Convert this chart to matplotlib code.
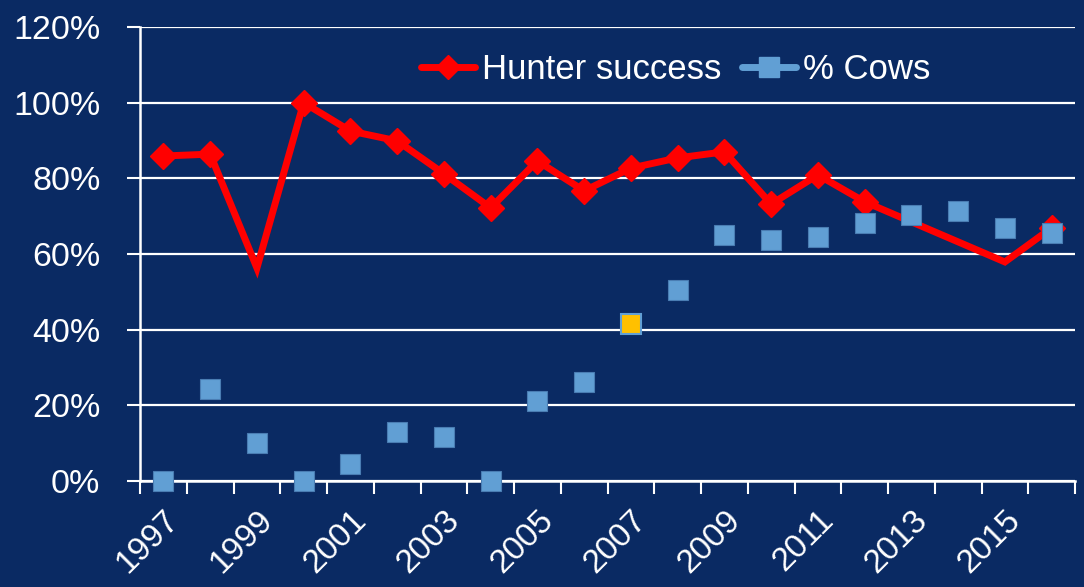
import matplotlib
matplotlib.use("Agg")
import matplotlib.pyplot as plt
import numpy as np

years = list(range(1997, 2017))
hunter_years = [1997, 1998, 1999, 2000, 2001, 2002, 2003, 2004, 2005, 2006,
                2007, 2008, 2009, 2010, 2011, 2012, 2015, 2016]
hunter_success = [85.9, 86.4, 56.3, 100.0, 92.5, 89.9, 81.2, 72.2, 84.6, 76.7,
                  82.7, 85.4, 87.0, 73.2, 80.9, 73.8, 57.9, 66.9]
hunter_has_marker = [True, True, False, True, True, True, True, True, True, True,
                     True, True, True, True, True, True, False, True]
pct_cows = [0.0, 24.3, 10.0, 0.0, 4.5, 13.0, 11.6, 0.0, 21.1, 26.2,
            41.5, 50.5, 65.0, 63.7, 64.5, 68.2, 70.3, 71.4, 66.9, 65.6]
highlight_year = 2007
x_labels = [str(y) for y in years[::2]]

BG = "#0A2A63"
RED = "#FF0000"
BLUE = "#619FD4"
BLUE_EDGE = "#4A7DB3"
YELLOW = "#FFC000"

plt.rcParams['font.family'] = ['Liberation Sans', 'DejaVu Sans']

fig = plt.figure(figsize=(10.84, 5.87), dpi=100, facecolor=BG)
ax = fig.add_axes([0.1292, 0.1806, 0.9917 - 0.1292, 0.7734], facecolor=BG)

xi = {y: i for i, y in enumerate(years)}
hx = [xi[y] for y in hunter_years]
cx = [xi[y] for y in years]

ax.set_ylim(0, 120)
ax.set_yticks(np.arange(0, 121, 20))
ax.set_yticklabels([f"{v}%" for v in range(0, 121, 20)])
ax.grid(axis='y', color='white', linewidth=1.6, zorder=0)
ax.set_axisbelow(True)

ax.plot(hx, hunter_success, color=RED, linewidth=5, solid_joinstyle='miter',
        zorder=3)
mx = [x for x, m in zip(hx, hunter_has_marker) if m]
my = [v for v, m in zip(hunter_success, hunter_has_marker) if m]
ax.plot(mx, my, linestyle='none', marker='D', markersize=13, color=RED,
        markeredgecolor=RED, zorder=4)

colors = [YELLOW if y == highlight_year else BLUE for y in years]
for x, v, c in zip(cx, pct_cows, colors):
    ax.plot([x], [v], linestyle='none', marker='s', markersize=14.5,
            markerfacecolor=c, markeredgecolor=BLUE_EDGE if c == BLUE else BLUE,
            markeredgewidth=1.5 if c == YELLOW else 0.8, zorder=5, clip_on=False)

h1, = ax.plot([], [], color=RED, linewidth=5, marker='D', markersize=12,
              solid_capstyle='round')
h2, = ax.plot([], [], color=BLUE, linewidth=5, marker='s', markersize=14,
              solid_capstyle='round')
leg = fig.legend([h1, h2], ["Hunter success", "% Cows"], loc='center',
                 bbox_to_anchor=(0.623, 0.881), ncol=2, frameon=False,
                 fontsize=25, handlelength=1.55, handletextpad=0.2,
                 columnspacing=0.6, labelcolor='white')

ax.set_xlim(-0.5, len(years) - 0.5)
ax.set_xticks(np.arange(-0.5, len(years), 1.0))
ax.set_xticklabels([])
ax.set_xticks(cx[::2], minor=True)
ax.set_xticklabels(x_labels, minor=True, rotation=45, ha='right',
                   rotation_mode='anchor', fontsize=24, color='white')
ax.tick_params(axis='x', which='major', direction='out', length=9, width=1.5,
               color='white')
ax.tick_params(axis='x', which='minor', length=0, pad=17)
ax.tick_params(axis='y', direction='out', length=9.5, width=1.5, color='white',
               labelcolor='white', labelsize=24.5, pad=19)

for s in ['top', 'right']:
    ax.spines[s].set_visible(False)
for s in ['left', 'bottom']:
    ax.spines[s].set_color('white')
    ax.spines[s].set_linewidth(1.8)

fig.savefig("out.png", dpi=100, facecolor=BG)
